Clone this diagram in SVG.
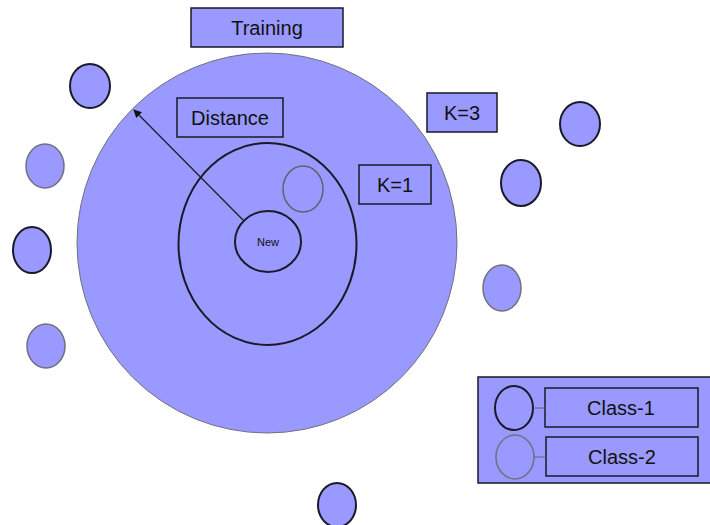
<svg xmlns="http://www.w3.org/2000/svg" width="710" height="525" viewBox="0 0 710 525">
<defs>
<style>
.pt{fill:#9999ff;stroke:#1a1a2a;stroke-width:2}
.pg{fill:#9999ff;stroke:#707080;stroke-width:1.5}
.box{fill:#9999ff;stroke:#1a1a2a;stroke-width:1.5}
.lbl{fill:none;stroke:#1a1a2a;stroke-width:1.5}
.t{font-family:"Liberation Sans","Open Sans",sans-serif;fill:#111;text-anchor:middle;dominant-baseline:central}
.conn{stroke:#1a1a2a;stroke-width:1.2;fill:none}
</style>
<marker id="ah" viewBox="0 0 10 10" refX="9" refY="5" markerWidth="8" markerHeight="8" orient="auto" markerUnits="userSpaceOnUse">
<path d="M0,0 L10,5 L0,10 z" fill="#111"/>
</marker>
</defs>
<rect width="710" height="525" fill="#fff"/>
<g id="training-box"><rect class="box" x="191" y="8" width="152" height="39"/><text class="t" x="267" y="28" font-size="20">Training</text></g>
<g id="k3-region"><circle cx="267" cy="243" r="190" fill="#9999ff" stroke="#707080" stroke-width="1"/></g>
<g id="k1-region"><ellipse cx="267.5" cy="244" rx="89" ry="101" fill="none" stroke="#1a1a2a" stroke-width="2"/></g>
<g id="near-point"><ellipse cx="303" cy="189" rx="20" ry="23" fill="none" stroke="#606070" stroke-width="1.5"/></g>
<g id="new-point"><ellipse cx="268" cy="241.5" rx="33" ry="30.5" fill="#9999ff" stroke="#1a1a2a" stroke-width="2"/><text class="t" x="268" y="242" font-size="11">New</text></g>
<g id="distance-label"><rect class="lbl" x="177" y="98" width="106" height="39"/><text class="t" x="230" y="118" font-size="20">Distance</text></g>
<g id="k1-label"><rect class="lbl" x="359" y="165" width="72" height="39"/><text class="t" x="395" y="185" font-size="20">K=1</text></g>
<g id="k3-label"><rect class="box" x="427" y="93" width="70" height="39"/><text class="t" x="462" y="113" font-size="20">K=3</text></g>
<g id="p1"><ellipse class="pt" cx="90" cy="86" rx="20" ry="22"/></g>
<g id="p2"><ellipse class="pg" cx="45" cy="166" rx="19" ry="22"/></g>
<g id="p3"><ellipse class="pt" cx="32" cy="250" rx="19" ry="23"/></g>
<g id="p4"><ellipse class="pg" cx="46" cy="346" rx="19" ry="22"/></g>
<g id="p5"><ellipse class="pt" cx="580" cy="124" rx="20" ry="22"/></g>
<g id="p6"><ellipse class="pt" cx="521" cy="183" rx="20" ry="23"/></g>
<g id="p7"><ellipse class="pg" cx="502" cy="288" rx="19" ry="23"/></g>
<g id="p8"><ellipse class="pt" cx="337" cy="505" rx="19" ry="22"/></g>
<g id="legend">
<rect class="box" x="478" y="377" width="240" height="106"/>
<ellipse cx="514" cy="408" rx="19" ry="22" fill="#9999ff" stroke="#1a1a2a" stroke-width="2"/>
<ellipse cx="515" cy="457" rx="19" ry="22" fill="#9999ff" stroke="#707080" stroke-width="1.5"/>
<rect class="box" x="545" y="388" width="153" height="39"/><text class="t" x="621" y="408" font-size="20">Class-1</text>
<rect class="box" x="546" y="437" width="152" height="39"/><text class="t" x="622" y="457" font-size="20">Class-2</text>
</g>
<g id="connectors">
<line class="conn" x1="243" y1="220" x2="134" y2="110" marker-end="url(#ah)"/>
<line x1="533" y1="408" x2="545" y2="408" stroke="#606070" stroke-width="1"/>
<line x1="534" y1="457" x2="546" y2="457" stroke="#606070" stroke-width="1"/>
</g>
</svg>
